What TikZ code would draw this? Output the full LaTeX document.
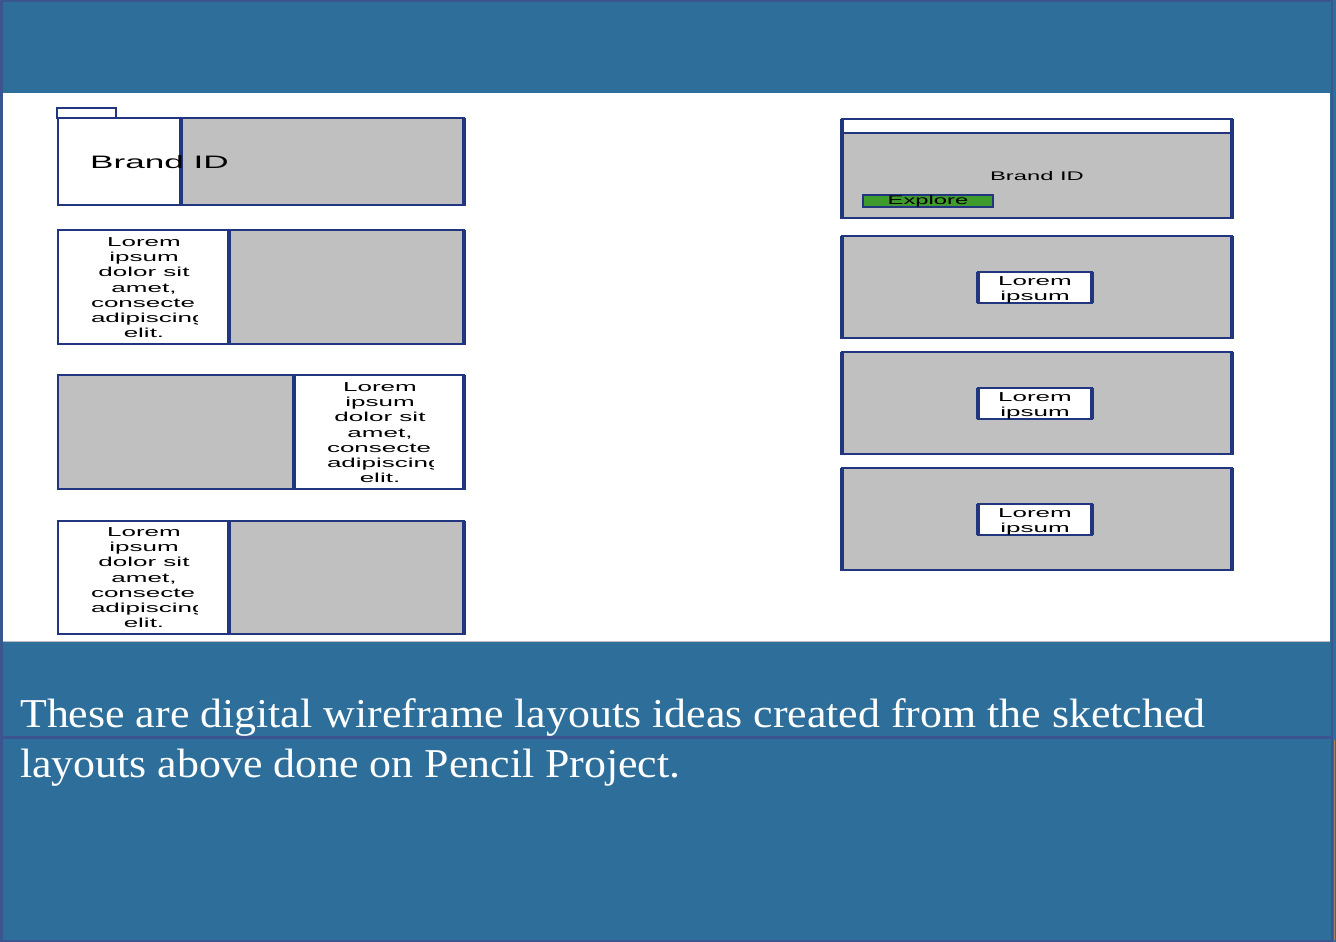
\documentclass[tikz,border=0pt]{standalone}
\usepackage{fontspec}
\setmainfont{Liberation Serif}
\setsansfont{Liberation Sans}
\usepackage{graphicx}

\definecolor{bandblue}{HTML}{2E6E9A}
\definecolor{edgeblue}{HTML}{3A5590}
\definecolor{navy}{HTML}{22357F}
\definecolor{wfgray}{HTML}{C0C0C0}
\definecolor{btngreen}{HTML}{3F9B2C}

% wide sans text, as the wireframe tool draws it
\newcommand{\wide}[1]{\scalebox{2}[1]{#1}}
\newcommand{\loremlines}{\wide{\begin{tabular}{@{}c@{}}Lorem\\ ipsum\\ dolor sit\\ amet,\\
  \makebox[53pt][l]{consecte}\\ \makebox[53pt][l]{adipiscing}\\ elit.\end{tabular}}}
\newcommand{\loremshort}{\wide{\begin{tabular}{@{}c@{}}Lorem\\ ipsum\end{tabular}}}

\begin{document}
\begin{tikzpicture}[
      x=1pt, y=-1pt,
      panel/.style={draw=navy, line width=2pt},
      shade/.style={draw=navy, line width=4pt},
      wftext/.style={font=\fontsize{13}{15.3}\selectfont\sffamily, inner sep=0pt},
      captext/.style={font=\fontsize{41}{50}\selectfont, text=white, inner sep=0pt, anchor=base west},
    ]
      \useasboundingbox (0,0) rectangle (1336,942);
      % page bands
      \fill[bandblue] (0,0) rectangle (1336,942);
      \fill[white] (0,93) rectangle (1330,641);
      \draw[gray!50, line width=1pt] (0,641.5) -- (1330,641.5);
      \draw[edgeblue, line width=3pt] (0,737) -- (1332,737);
      \draw[edgeblue, line width=2.5pt] (1.25,1.25) rectangle (1332,940.75);
      \draw[brown!60!gray, line width=1.5pt] (1334.5,740) -- (1334.5,940);

      % left column
      \draw[panel, fill=white] (57,108) rectangle (116,118);
      \draw[panel, fill=white] (58,118) rectangle (181,205);
      \draw[panel, fill=wfgray] (181,118) rectangle (464,205);
      \draw[shade] (181,118) -- (181,206) (464,118) -- (464,206);
      \node[wftext, font=\fontsize{18}{20}\selectfont\sffamily] (brandA) at (159.5,162) {\scalebox{1.95}[1]{Brand ID}};

      \draw[panel, fill=white] (58,230) rectangle (229,344);
      \draw[panel, fill=wfgray] (229,230) rectangle (464,344);
      \draw[shade] (229,230) -- (229,345) (464,230) -- (464,345);
      \begin{scope}
        \clip (91,230) rectangle (197,345);
        \node[wftext] (loremA) at (144,289) {\loremlines};
      \end{scope}

      \draw[panel, fill=wfgray] (58,375) rectangle (294,489);
      \draw[panel, fill=white] (294,375) rectangle (464,489);
      \draw[shade] (294,375) -- (294,490) (464,375) -- (464,490);
      \begin{scope}
        \clip (327,374) rectangle (433,490);
        \node[wftext] (loremB) at (380,434) {\loremlines};
      \end{scope}

      \draw[panel, fill=white] (58,521) rectangle (229,634);
      \draw[panel, fill=wfgray] (229,521) rectangle (464,634);
      \draw[shade] (229,521) -- (229,635) (464,521) -- (464,635);
      \begin{scope}
        \clip (91,520) rectangle (197,635);
        \node[wftext] (loremC) at (144,579) {\loremlines};
      \end{scope}

      % right column
      \draw[panel, fill=wfgray] (842,119) rectangle (1232,218);
      \draw[panel, fill=white] (842,119) rectangle (1232,133);
      \draw[shade] (1232,119) -- (1232,219) (842,119) -- (842,219);
      \node[wftext, font=\fontsize{12.5}{14}\selectfont\sffamily] (brandB) at (1037,176) {\scalebox{1.9}[1]{Brand ID}};
      \draw[draw=navy, line width=2pt, fill=btngreen] (863,195) rectangle (993,207);
      \node[wftext, font=\fontsize{12.5}{14}\selectfont\sffamily] (explore) at (928,201.5) {\scalebox{1.9}[1]{Explore}};

      \foreach \y/\nm in {236/p, 352/q, 468/r}{
        \draw[panel, fill=wfgray] (842,\y) rectangle (1232,\y+102);
        \draw[shade] (1232,\y) -- (1232,\y+103) (842,\y) -- (842,\y+103);
        \draw[panel, fill=white] (978,\y+36) rectangle (1092,\y+67);
        \draw[shade] (1092,\y+36) -- (1092,\y+67) (978,\y+36) -- (978,\y+67);
        \node[wftext] (lorem\nm) at (1035,\y+54) {\loremshort};
      }

      % caption
      \node[captext] (capA) at (20,727) {\scalebox{1.07}[1]{These are digital wireframe layouts ideas created from the sketched}};
      \node[captext] (capB) at (20,777) {\scalebox{1.07}[1]{layouts above done on Pencil Project.}};
    \end{tikzpicture}
\end{document}
